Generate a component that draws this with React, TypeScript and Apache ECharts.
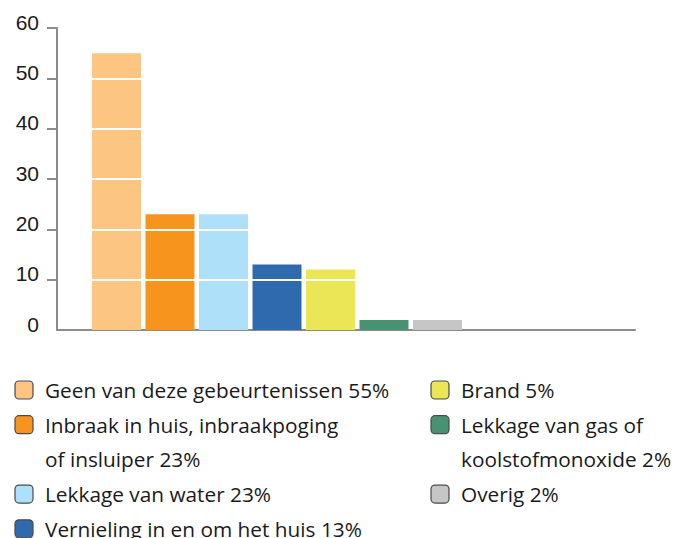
import React, { useEffect, useRef } from "react";
import * as echarts from "echarts";

const categories = [
  "Geen van deze gebeurtenissen 55%",
  "Inbraak in huis, inbraakpoging\nof insluiper 23%",
  "Lekkage van water 23%",
  "Vernieling in en om het huis 13%",
  "Brand 5%",
  "Lekkage van gas of\nkoolstofmonoxide 2%",
  "Overig 2%",
];
const values = [55, 23, 23, 13, 12, 2, 2];
const colors = ["#FDC582", "#F7941E", "#AEE0F9", "#2F6AAE", "#EBE656", "#489274", "#C6C6C7"];
const yTicks = [0, 10, 20, 30, 40, 50, 60];
const whiteLines = [10, 20, 30, 40, 50];
const leftColumn = [0, 1, 2, 3];
const rightColumn = [4, 5, 6];

const AXIS_COLOR = "#8c8c8c";
const LEGEND_FONT = "'Open Sans', 'Noto Sans', sans-serif";

function buildLegend(): any[] {
  const els: any[] = [];
  const lineH = 34.7;
  const col = (idxs: number[], iconX: number, textX: number) => {
    let y = 390;
    idxs.forEach((i) => {
      const lines = categories[i].split("\n");
      els.push({
        type: "rect",
        shape: { x: iconX, y: y - 9, width: 18, height: 18, r: 4 },
        style: { fill: colors[i], stroke: "#4a4a4a", lineWidth: 1.2 },
        silent: true,
      });
      lines.forEach((ln, k) => {
        els.push({
          type: "text",
          x: textX,
          y: y + k * lineH,
          style: {
            text: ln,
            fill: "#1a1a1a",
            font: `20.8px ${LEGEND_FONT}`,
            verticalAlign: "middle",
            align: "left",
          },
          silent: true,
        });
      });
      y += lines.length * lineH;
    });
  };
  col(leftColumn, 15, 45);
  col(rightColumn, 431, 461);
  return els;
}

export default function App() {
  const ref = useRef<HTMLDivElement>(null);
  useEffect(() => {
    if (!ref.current) return;
    const chart = echarts.init(ref.current, null, { renderer: "svg" });
    chart.setOption({
      animation: false,
      backgroundColor: "#ffffff",
      grid: [
        { left: 57, right: 48, top: 28, bottom: 208, containLabel: false },
        { left: 89.75, width: 374.5, top: 28, bottom: 208, containLabel: false },
      ],
      xAxis: [
        {
          gridIndex: 0,
          type: "category",
          data: [""],
          axisLine: { show: true, lineStyle: { color: AXIS_COLOR, width: 2 } },
          axisTick: { show: false },
          axisLabel: { show: false },
          splitLine: { show: false },
        },
        {
          gridIndex: 1,
          type: "category",
          data: categories,
          axisLine: { show: false },
          axisTick: { show: false },
          axisLabel: { show: false },
          splitLine: { show: false },
        },
      ],
      yAxis: [
        {
          gridIndex: 0,
          type: "value",
          min: 0,
          max: 60,
          interval: 10,
          axisLine: { show: true, lineStyle: { color: AXIS_COLOR, width: 2 } },
          axisTick: {
            show: true,
            length: 10,
            lineStyle: { color: AXIS_COLOR, width: 2 },
            customValues: yTicks.filter((v) => v !== 0),
          },
          axisLabel: {
            show: true,
            margin: 18,
            color: "#1a1a1a",
            fontSize: 21,
            fontFamily: "'Liberation Sans', Arial, sans-serif",
            verticalAlign: "bottom",
            lineHeight: 12,
            customValues: yTicks,
          },
          splitLine: { show: false },
        },
        {
          gridIndex: 1,
          type: "value",
          min: 0,
          max: 60,
          interval: 10,
          show: false,
          splitLine: { show: false },
        },
      ],
      series: [
        {
          type: "bar",
          xAxisIndex: 1,
          yAxisIndex: 1,
          barWidth: 49,
          data: values.map((v, i) => ({ value: v, itemStyle: { color: colors[i] } })),
          markLine: {
            silent: true,
            symbol: ["none", "none"],
            label: { show: false },
            lineStyle: { color: "#ffffff", width: 2, type: "solid" },
            emphasis: { disabled: true },
            data: whiteLines.map((v) => ({ yAxis: v })),
          },
        },
      ],
      graphic: buildLegend(),
    });
    return () => chart.dispose();
  }, []);
  return (
    <div
      ref={ref}
      style={{ position: "absolute", left: 0, top: 0, width: 683, height: 538 }}
    />
  );
}
